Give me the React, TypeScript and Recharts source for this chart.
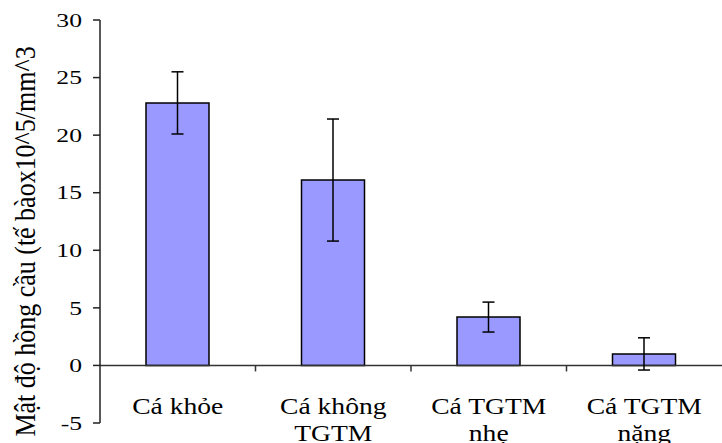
import React from "react";
import { BarChart, Bar, XAxis, YAxis, ErrorBar, ReferenceLine, Label } from "recharts";

const categories = ["Cá khỏe", "Cá không\nTGTM", "Cá TGTM\nnhẹ", "Cá TGTM\nnặng"];
const means = [22.8, 16.1, 4.2, 1.0];
const errors = [2.7, 5.3, 1.3, 1.4];
const yTicks = [-5, 0, 5, 10, 15, 20, 25, 30];
const yTitle = "Mật độ hồng cầu (tế bàox10^5/mm^3";

const data = categories.map((c, i) => ({ name: c, value: means[i], err: errors[i] }));

const FONT = "Liberation Serif";

const YTick = (props: any) => {
  const { x, y, payload } = props;
  return (
    <text
      transform={`translate(${x},${y}) scale(1.35,1)`}
      textAnchor="end"
      dy="0.35em"
      fontFamily={FONT}
      fontSize={19}
      fill="#000"
    >
      {payload.value}
    </text>
  );
};

const XTick = (props: any) => {
  const { x, y, payload } = props;
  const lines = String(payload.value).split("\n");
  return (
    <g transform={`translate(${x},${y})`}>
      {lines.map((l, i) => (
        <text
          key={i}
          transform={`translate(0,${-9 + i * 27}) scale(1.15,1)`}
          textAnchor="middle"
          fontFamily={FONT}
          fontSize={24}
          fill="#000"
        >
          {l}
        </text>
      ))}
    </g>
  );
};

const ZeroAxis = (props: any) => {
  const { x1, x2, y1 } = props;
  const n = categories.length;
  const step = (x2 - x1) / n;
  const ticks: number[] = [];
  for (let i = 1; i < n; i++) ticks.push(x1 + step * i);
  return (
    <g>
      <line x1={x1} x2={x2} y1={y1} y2={y1} stroke="#333" strokeWidth={1.5} />
      {ticks.map((t, i) => (
        <line key={i} x1={t} x2={t} y1={y1} y2={y1 + 6} stroke="#333" strokeWidth={1.5} />
      ))}
    </g>
  );
};

const YTitle = (props: any) => {
  const vb = props.viewBox || { x: 0, y: 20, width: 100, height: 403 };
  const cx = vb.x + 35;
  const cy = vb.y + vb.height / 2 + 20;
  return (
    <text
      transform={`translate(${cx},${cy}) scale(1.15,1) rotate(-90)`}
      textAnchor="middle"
      fontFamily={FONT}
      fontSize={26}
      fill="#000"
    >
      {yTitle}
    </text>
  );
};

export default function App() {
  return (
    <div style={{ position: "absolute", left: 0, top: 0, width: 722, height: 443, background: "#fff" }}>
      <BarChart
        width={722}
        height={443}
        data={data}
        margin={{ top: 20, right: 0, left: 0, bottom: 0 }}
      >
        <XAxis
          dataKey="name"
          axisLine={false}
          tickLine={false}
          tickSize={0}
          tickMargin={0}
          height={20}
          interval={0}
          tick={<XTick />}
        />
        <YAxis
          width={100}
          domain={[-5, 30]}
          ticks={yTicks}
          interval={0}
          tickSize={7}
          tickMargin={11}
          axisLine={{ stroke: "#222", strokeWidth: 1.5 }}
          tickLine={{ stroke: "#222", strokeWidth: 1.5 }}
          tick={<YTick />}
        >
          <Label content={<YTitle />} />
        </YAxis>
        <ReferenceLine y={0} shape={ZeroAxis} />
        <Bar dataKey="value" fill="#9999FF" stroke="#000" strokeWidth={1.5} barSize={63} isAnimationActive={false}>
          <ErrorBar dataKey="err" direction="y" width={6} stroke="#000" strokeWidth={1.5} />
        </Bar>
      </BarChart>
    </div>
  );
}
